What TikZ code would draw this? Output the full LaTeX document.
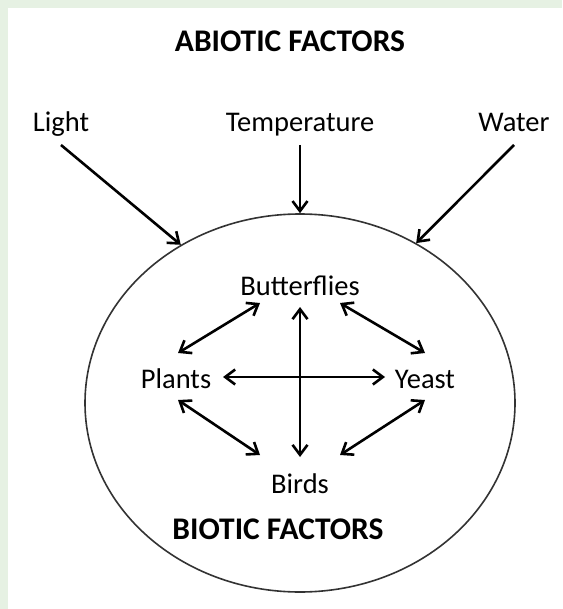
\documentclass[tikz,border=0pt]{standalone}
\usepackage{fontspec}
\setmainfont{Carlito}
\usetikzlibrary{arrows.meta,shapes.geometric}
\definecolor{paper}{HTML}{E6F1E3}
\definecolor{rim}{HTML}{333333}

\begin{document}
\begin{tikzpicture}[x=1pt,y=-1pt,
  lbl/.style={font=\fontsize{28.5}{32}\selectfont,anchor=base,inner sep=0pt},
  ttl/.style={font=\fontsize{31.5}{36}\selectfont\bfseries,anchor=base,inner sep=0pt},
  link/.style={line width=2.6pt,{Straight Barb[length=10pt,width=15pt]}-{Straight Barb[length=10pt,width=15pt]}},
  feed/.style={line width=2.6pt,-{Straight Barb[length=10pt,width=15pt]}}]
  \fill[paper] (0,0) rectangle (562,609);
  \fill[white] (8,8) rectangle (562,609);
  \useasboundingbox (0,0) rectangle (562,609);
  \node[ellipse,draw=rim,line width=1.6pt,minimum width=430pt,minimum height=378pt,inner sep=0pt] (eco) at (300,403) {};
  \node[ttl] (abio) at (290,52) {ABIOTIC FACTORS};
  \node[ttl] (bio) at (278,539) {BIOTIC FACTORS};
  % abiotic factors pointing in
  \foreach \n/\x/\t/\a in {light/61/Light/127, temp/300/Temperature/90, water/514/Water/54.5}{
    \node[lbl] (\n) at (\x,132) {\t};
    \draw[feed] ([yshift=-13pt]\n.base) -- (eco.\a);
  }
  % organisms
  \node[lbl] (butter) at (300,295) {Butterflies};
  \node[lbl] (plants) at (176,388) {Plants};
  \node[lbl] (yeast) at (425,388) {Yeast};
  \node[lbl] (birds) at (300,493) {Birds};
  \draw[link] ([shift={(-40,8)}]butter.base) -- ([shift={(2,-35)}]plants.base);
  \draw[link] ([shift={(40,8)}]butter.base) -- ([shift={(0,-35)}]yeast.base);
  \draw[link] ([shift={(0,12)}]butter.base) -- ([shift={(0,-36)}]birds.base);
  \draw[link] ([shift={(47,-11)}]plants.base) -- ([shift={(-40,-11)}]yeast.base);
  \draw[link] ([shift={(2,12)}]plants.base) -- ([shift={(-40,-38)}]birds.base);
  \draw[link] ([shift={(0,12)}]yeast.base) -- ([shift={(40,-38)}]birds.base);
\end{tikzpicture}
\end{document}
